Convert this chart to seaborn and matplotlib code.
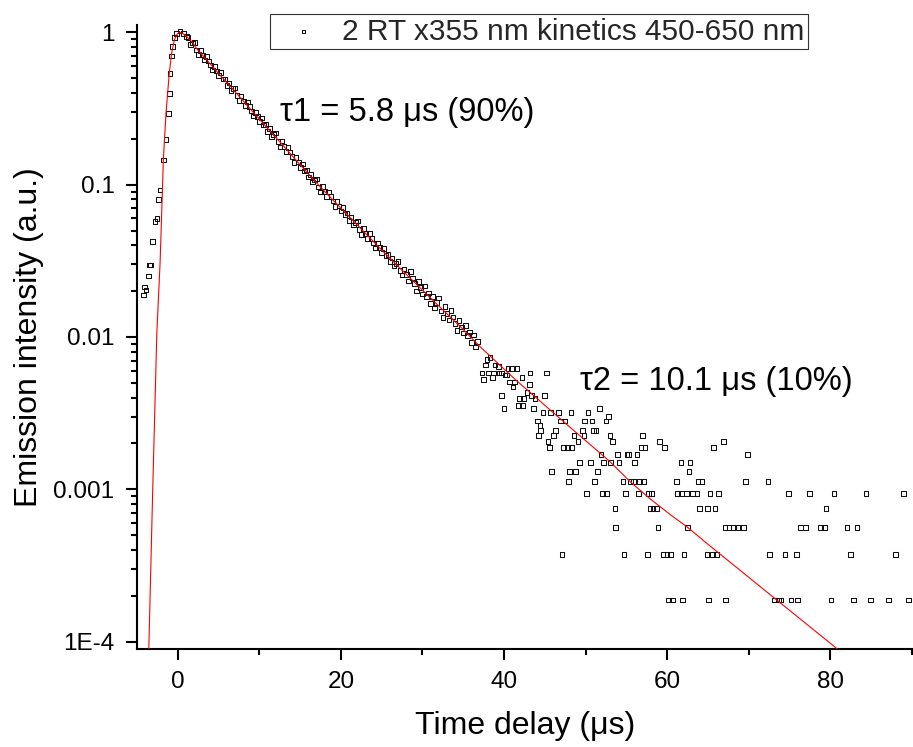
import matplotlib
matplotlib.use("Agg")
import matplotlib.pyplot as plt
import pandas as pd
import seaborn as sns
from matplotlib.ticker import FixedLocator, FixedFormatter, MultipleLocator, NullFormatter

# ---------------- data ----------------
rise_t = [-4.25, -4.13, -3.93, -3.64, -3.52, -3.35, -3.10, -2.82, -2.60, -2.40, -2.20,
          -1.80, -1.47, -1.19, -1.07, -0.98, -0.78, -0.66, -0.45, -0.16, 0.25, 0.65, 1.07]
rise_i = [0.0189, 0.0213, 0.0204, 0.0252, 0.0297, 0.0297, 0.0423, 0.0571, 0.0601, 0.0802, 0.0922,
          0.145, 0.198, 0.294, 0.398, 0.538, 0.699, 0.805, 0.927, 0.985, 1.02, 0.985, 0.936]

decay_t = [1.25, 1.5, 1.75, 2.0, 2.25, 2.5, 2.75, 3.0, 3.25, 3.5, 3.75, 4.0,
           4.25, 4.5, 4.75, 5.0, 5.25, 5.5, 5.75, 6.0, 6.25, 6.5, 6.75, 7.0,
           7.25, 7.5, 7.75, 8.0, 8.25, 8.5, 8.75, 9.0, 9.25, 9.5, 9.75, 10.0,
           10.25, 10.5, 10.75, 11.0, 11.25, 11.5, 11.75, 12.0, 12.25, 12.5, 12.75, 13.0,
           13.25, 13.5, 13.75, 14.0, 14.25, 14.5, 14.75, 15.0, 15.25, 15.5, 15.75, 16.0,
           16.25, 16.5, 16.75, 17.0, 17.25, 17.5, 17.75, 18.0, 18.25, 18.5, 18.75, 19.0,
           19.25, 19.5, 19.75, 20.0, 20.25, 20.5, 20.75, 21.0, 21.25, 21.5, 21.75, 22.0,
           22.25, 22.5, 22.75, 23.0, 23.25, 23.5, 23.75, 24.0, 24.25, 24.5, 24.75, 25.0,
           25.25, 25.5, 25.75, 26.0, 26.25, 26.5, 26.75, 27.0, 27.25, 27.5, 27.75, 28.0,
           28.25, 28.5, 28.75, 29.0, 29.25, 29.5, 29.75, 30.0, 30.25, 30.5, 30.75, 31.0,
           31.25, 31.5, 31.75, 32.0, 32.25, 32.5, 32.75, 33.0, 33.25, 33.5, 33.75, 34.0,
           34.25, 34.5, 34.75, 35.0, 35.25, 35.5, 35.75, 36.0, 36.25, 36.5, 36.75]
decay_i = [0.928, 0.831, 0.851, 0.860, 0.767, 0.715, 0.762, 0.708, 0.660, 0.695, 0.649, 0.610,
           0.565, 0.595, 0.559, 0.522, 0.543, 0.493, 0.495, 0.449, 0.465, 0.416, 0.427, 0.431,
           0.385, 0.358, 0.382, 0.355, 0.331, 0.348, 0.325, 0.305, 0.283, 0.298, 0.280, 0.261,
           0.274, 0.246, 0.249, 0.223, 0.234, 0.207, 0.214, 0.218, 0.192, 0.177, 0.193, 0.178,
           0.165, 0.176, 0.164, 0.153, 0.140, 0.151, 0.141, 0.130, 0.137, 0.123, 0.125, 0.112,
           0.117, 0.104, 0.107, 0.109, 0.0965, 0.0895, 0.0977, 0.0899, 0.0835, 0.0895, 0.0834, 0.0780,
           0.0718, 0.0773, 0.0723, 0.0671, 0.0711, 0.0638, 0.0650, 0.0583, 0.0614, 0.0544, 0.0565, 0.0579,
           0.0509, 0.0473, 0.0516, 0.0476, 0.0443, 0.0477, 0.0443, 0.0415, 0.0384, 0.0413, 0.0387, 0.0359,
           0.0382, 0.0343, 0.0349, 0.0314, 0.0330, 0.0292, 0.0304, 0.0312, 0.0274, 0.0256, 0.0279, 0.0258,
           0.0233, 0.0270, 0.0244, 0.0224, 0.0200, 0.0231, 0.0212, 0.0192, 0.0216, 0.0185, 0.0195, 0.0166,
           0.0185, 0.0155, 0.0169, 0.0180, 0.0148, 0.0134, 0.0158, 0.0142, 0.0129, 0.0149, 0.0135, 0.0123,
           0.0110, 0.0128, 0.0116, 0.0106, 0.0119, 0.0102, 0.0108, 0.00923, 0.0103, 0.00860, 0.00938]

tail_t = [37.3, 37.5, 37.7, 37.9, 38.1, 38.3, 38.7, 38.6, 38.9, 39.3, 39.4, 39.7, 39.7, 40.1, 40.0,
          40.3, 40.5, 40.7, 40.9, 41.1, 41.3, 41.6, 41.8, 41.9, 42.2, 42.3, 42.4, 42.8, 43.1, 43.2,
          43.4, 43.6, 43.8, 44.1, 44.2, 44.4, 44.5, 44.8, 45.0, 45.2, 45.4, 45.6, 45.7, 45.8, 46.1,
          46.3, 46.7, 46.9, 47.1, 47.3, 47.5, 47.8, 47.9, 48.0, 48.2, 48.3, 48.6, 48.8, 49.1, 49.3,
          49.6, 49.8, 49.9, 50.1, 50.3, 50.6, 50.8, 51.0, 51.1, 51.3, 51.5, 51.7, 51.9, 52.1, 52.2,
          52.5, 52.6, 52.8, 53.0, 53.1, 53.3, 53.6, 53.7, 53.9, 54.1, 54.6, 54.7, 54.9, 55.1, 55.3,
          55.5, 55.9, 56.0, 56.3, 56.5, 56.6, 56.8, 57.0, 57.1, 57.3, 57.6, 57.7, 57.9, 58.1, 58.3,
          58.7, 58.9, 59.1, 59.5, 59.7, 60.0, 60.2, 60.4, 60.7, 61.2, 61.3, 61.7, 61.8, 61.9, 62.1,
          62.4, 62.5, 62.7, 62.8, 63.1, 63.7, 63.8, 64.0, 64.3, 64.9, 65.0, 65.1, 65.3, 65.6, 65.7,
          65.9, 66.1, 66.3, 66.9, 67.1, 67.2, 67.6, 68.1, 68.7, 69.4, 69.6, 69.9, 72.4, 72.6, 73.2,
          73.7, 74.0, 74.5, 74.9, 75.2, 75.9, 76.0, 76.4, 77.0, 77.5, 78.8, 79.3, 79.5, 80.1, 80.5,
          82.1, 82.5, 82.9, 83.3, 84.4, 85.0, 87.2, 88.0, 89.0, 89.6]
tail_i = [5.81e-3, 5.25e-3, 6.56e-3, 7.13e-3, 5.81e-3, 7.31e-3, 5.81e-3, 5.44e-3, 6.56e-3, 6.38e-3,
          5.81e-3, 5.81e-3, 4.13e-3, 5.63e-3, 3.38e-3, 5.63e-3, 6.19e-3, 5.06e-3, 6.19e-3, 4.69e-3,
          5.06e-3, 6.19e-3, 3.56e-3, 3.94e-3, 5.44e-3, 3.56e-3, 3.94e-3, 4.31e-3, 4.88e-3, 5.81e-3,
          4.13e-3, 3.38e-3, 3.94e-3, 2.81e-3, 2.25e-3, 2.63e-3, 2.44e-3, 3.19e-3, 4.13e-3, 5.81e-3,
          2.06e-3, 1.88e-3, 3.19e-3, 1.31e-3, 2.25e-3, 2.44e-3, 3.19e-3, 2.81e-3, 3.75e-4, 1.88e-3,
          2.81e-3, 1.88e-3, 1.13e-3, 1.31e-3, 3.19e-3, 1.88e-3, 2.25e-3, 1.31e-3, 2.06e-3, 1.50e-3,
          2.44e-3, 2.25e-3, 2.81e-3, 9.38e-4, 3.19e-3, 1.50e-3, 2.81e-3, 2.44e-3, 1.13e-3, 2.44e-3,
          1.31e-3, 3.38e-3, 1.69e-3, 9.38e-4, 1.50e-3, 2.81e-3, 9.38e-4, 3.00e-3, 2.25e-3, 1.50e-3,
          2.06e-3, 7.50e-4, 5.63e-4, 1.69e-3, 1.50e-3, 1.13e-3, 3.75e-4, 9.38e-4, 1.69e-3, 1.69e-3,
          1.13e-3, 1.13e-3, 1.50e-3, 1.69e-3, 9.38e-4, 1.13e-3, 1.88e-3, 2.25e-3, 1.13e-3, 1.88e-3,
          3.75e-4, 9.38e-4, 7.50e-4, 9.38e-4, 7.50e-4, 7.50e-4, 5.63e-4, 2.06e-3, 3.75e-4, 1.88e-3,
          3.75e-4, 1.88e-4, 3.75e-4, 1.88e-4, 1.13e-3, 9.38e-4, 1.50e-3, 9.38e-4, 1.88e-4, 3.75e-4,
          9.38e-4, 5.63e-4, 1.31e-3, 1.50e-3, 9.38e-4, 9.38e-4, 1.13e-3, 7.50e-4, 1.13e-3, 3.75e-4,
          7.50e-4, 1.88e-4, 9.38e-4, 3.75e-4, 1.88e-3, 7.50e-4, 3.75e-4, 9.38e-4, 2.06e-3, 5.63e-4,
          1.88e-4, 5.63e-4, 5.63e-4, 5.63e-4, 5.63e-4, 1.13e-3, 1.69e-3, 1.13e-3, 3.75e-4, 1.88e-4,
          1.88e-4, 1.88e-4, 3.75e-4, 9.38e-4, 1.88e-4, 3.75e-4, 1.88e-4, 5.63e-4, 5.63e-4, 9.38e-4,
          5.63e-4, 5.63e-4, 7.50e-4, 1.88e-4, 9.38e-4, 5.63e-4, 3.75e-4, 1.88e-4, 5.63e-4, 9.38e-4,
          1.88e-4, 1.88e-4, 3.75e-4, 9.38e-4, 1.88e-4]

fit_t = [-3.70, -3.56, -3.10, -2.60, -2.20, -1.95, -1.80, -1.47, -1.07, -0.78, -0.45, -0.10,
         0.25, 0.70, 1.20, 1.80, 2.30, 3.30, 4.30, 5.30, 6.40, 8.00, 9.50, 11.0, 12.5, 14.0,
         15.5, 17.2, 19.0, 21.0, 23.0, 25.0, 27.0, 29.0, 31.0, 33.0, 35.0, 37.0, 39.5, 41.5,
         43.8, 46.0, 48.5, 51.0, 53.0, 55.5, 58.0, 60.5, 62.4, 65.0, 68.0, 71.0, 74.0, 77.0,
         80.0, 82.0]
fit_i = [5.0e-5, 1.0e-4, 1.0e-3, 1.05e-2, 3.05e-2, 7.9e-2, 0.145, 0.295, 0.54, 0.73, 0.89, 0.975,
         1.0, 0.973, 0.923, 0.855, 0.78, 0.679, 0.592, 0.513, 0.443, 0.355, 0.288, 0.234, 0.191, 0.155,
         0.126, 0.100, 0.0794, 0.0617, 0.0479, 0.0372, 0.0291, 0.0229, 0.0180, 0.0142, 0.0112, 0.0087,
         6.53e-3, 5.19e-3, 4.06e-3, 3.20e-3, 2.45e-3, 1.88e-3, 1.52e-3, 1.12e-3, 8.6e-4, 6.76e-4,
         5.7e-4, 4.37e-4, 3.24e-4, 2.40e-4, 1.78e-4, 1.32e-4, 9.8e-5, 8.0e-5]

legend_label = "2 RT x355 nm kinetics 450-650 nm"
x_label = "Time delay (μs)"
y_label = "Emission intensity (a.u.)"
tau1_text = "τ1 = 5.8 μs (90%)"
tau2_text = "τ2 = 10.1 μs (10%)"
x_major = [0, 20, 40, 60, 80]
y_major = [1e-4, 1e-3, 1e-2, 1e-1, 1.0]
y_major_labels = ["1E-4", "0.001", "0.01", "0.1", "1"]
y_minor = [m * d for d in (1e-4, 1e-3, 1e-2, 1e-1) for m in range(2, 10)]

# ---------------- styling ----------------
sns.set_theme(style="ticks")
plt.rcParams["font.family"] = ["Liberation Sans", "DejaVu Sans"]
plt.rcParams["axes.unicode_minus"] = False

fig = plt.figure(figsize=(9.13, 7.47), dpi=100)
fig.patch.set_facecolor("white")
ax = fig.add_axes([0.1497, 0.1312, 0.8500, 0.8353])
ax.set_facecolor("white")
ax.set_yscale("log")

points = pd.DataFrame({"t": rise_t + decay_t + tail_t, "I": rise_i + decay_i + tail_i})
fit = pd.DataFrame({"t": fit_t, "I": fit_i})

sns.scatterplot(data=points, x="t", y="I", marker="s", s=11, ax=ax, zorder=2, legend=False)
pc = ax.collections[-1]
pc.set_facecolor("none")
pc.set_edgecolor("#111111")
pc.set_linewidth(0.75)

sns.lineplot(data=fit, x="t", y="I", color="red", linewidth=0.8, estimator=None,
             sort=False, ax=ax, zorder=3, legend=False)

ax.set_xlim(-5.07, 90.15)
ax.set_ylim(8.95e-5, 1.117)

ax.xaxis.set_major_locator(FixedLocator(x_major))
ax.xaxis.set_minor_locator(MultipleLocator(10))
ax.yaxis.set_major_locator(FixedLocator(y_major))
ax.yaxis.set_major_formatter(FixedFormatter(y_major_labels))
ax.yaxis.set_minor_locator(FixedLocator(y_minor))
ax.yaxis.set_minor_formatter(NullFormatter())

ax.tick_params(which="major", direction="out", length=8, width=1.5, labelsize=17.5,
               pad=8, color="black", labelcolor="black")
ax.tick_params(which="minor", direction="out", length=4, width=1.5, color="black")
for side in ("top", "right"):
    ax.spines[side].set_visible(False)
for side in ("left", "bottom"):
    ax.spines[side].set_linewidth(1.5)
    ax.spines[side].set_color("black")

ax.set_xlabel(x_label, fontsize=23, color="black")
ax.xaxis.set_label_coords(0.5, -0.099)
ax.set_ylabel(y_label, fontsize=23, color="black")
ax.yaxis.set_label_coords(-0.1195, 0.5)

ax.text(0.1847, 0.8606, tau1_text, transform=ax.transAxes, fontsize=23.5,
        va="center", ha="left", color="black")
ax.text(0.5712, 0.4279, tau2_text, transform=ax.transAxes, fontsize=23.5,
        va="center", ha="left", color="black")

leg = ax.legend(handles=[pc], labels=[legend_label], loc="upper left",
                bbox_to_anchor=(0.1718, 1.0176), borderaxespad=0, fontsize=21.5,
                frameon=True, fancybox=False, borderpad=0.12, handlelength=2.0,
                handletextpad=0.3, markerscale=0.7, framealpha=1, edgecolor="#333333")
leg.get_frame().set_linewidth(0.8)

fig.savefig("out.png", dpi=100, facecolor="white")
